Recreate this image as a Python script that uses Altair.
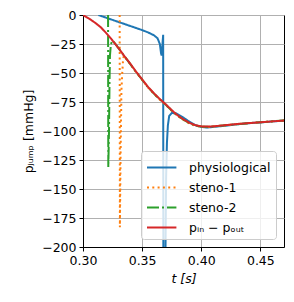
import altair as alt
import pandas as pd

SERIES = ["physiological", "steno-1", "steno-2", "pᵢₙ − pₒᵤₜ"]
COLORS = ["#1f77b4", "#ff7f0e", "#2ca02c", "#d62728"]
DASHES = [[1, 0], [2, 3.3], [12, 3, 2, 3], [1, 0]]

phys_t = [0.313, 0.320, 0.330, 0.340, 0.350, 0.355, 0.360, 0.363, 0.365, 0.366, 0.3665,
          0.3678, 0.3680, 0.3695, 0.3698, 0.3703, 0.3710, 0.3718, 0.3729, 0.375, 0.3785,
          0.385, 0.390, 0.395, 0.400, 0.405, 0.410, 0.420, 0.430, 0.440, 0.450, 0.460, 0.470]
phys_p = [0, -2.5, -6, -9.5, -13, -15, -17.5, -20, -25, -33, -35,
          -17, -260, -260, -200, -140, -110, -95, -87, -84.5, -84.7,
          -88.5, -92, -95, -96.5, -97, -96.5, -95.5, -94.3, -93.3, -92.6, -91.8, -91]

st1_t = [0.3310, 0.3312, 0.3318, 0.3325, 0.3332, 0.3338, 0.3345, 0.340, 0.345, 0.350,
         0.355, 0.360, 0.365, 0.370, 0.375, 0.380, 0.385, 0.390, 0.395, 0.400, 0.405,
         0.410, 0.420, 0.430, 0.440, 0.450, 0.460, 0.470]
st1_p = [0, -183, -120, -65, -50, -40, -35, -42.5, -49.5, -56, -62.5, -68, -73, -77.5,
         -82.5, -87, -90.5, -93.5, -95.5, -96.3, -96.5, -96.2, -95.2, -94.2, -93.3, -92.5,
         -91.7, -91]

st2_t = [0.3212, 0.3214, 0.3220, 0.3224, 0.3228, 0.3236, 0.3250, 0.327, 0.330, 0.335,
         0.340, 0.345, 0.350, 0.355, 0.360, 0.365, 0.370, 0.375, 0.380, 0.385, 0.390,
         0.395, 0.400, 0.405, 0.410, 0.420, 0.430, 0.440, 0.450, 0.460, 0.470]
st2_p = [0, -131, -100, -60, -35, -25, -22, -24.5, -28.5, -35.5, -42.3, -49.3, -55.8,
         -62.3, -67.8, -72.8, -77.3, -82.3, -86.8, -90.3, -93.3, -95.3, -96.2, -96.4,
         -96.1, -95.1, -94.1, -93.2, -92.5, -91.7, -91]

red_t = [0.300, 0.305, 0.310, 0.315, 0.320, 0.325, 0.330, 0.335, 0.340, 0.345, 0.350,
         0.355, 0.360, 0.365, 0.370, 0.375, 0.380, 0.385, 0.390, 0.395, 0.400, 0.405,
         0.410, 0.420, 0.430, 0.440, 0.450, 0.460, 0.470]
red_p = [0, -3, -6.5, -10.5, -16, -22, -28.5, -35.5, -42, -49, -55.5, -62, -67.5, -72.5,
         -77, -82, -86.5, -90, -93, -95, -96, -96.2, -96, -95, -94, -93.2, -92.5, -91.7, -91]

X_TICKS = [0.30, 0.35, 0.40, 0.45]
Y_TICKS = [0, -25, -50, -75, -100, -125, -150, -175, -200]

data = [(phys_t, phys_p), (st1_t, st1_p), (st2_t, st2_p), (red_t, red_p)]

color_scale = alt.Scale(domain=SERIES, range=COLORS)
dash_scale = alt.Scale(domain=SERIES, range=DASHES)

x_enc = alt.X("t:Q", scale=alt.Scale(domain=[0.30, 0.47], nice=False, zero=False),
              axis=alt.Axis(values=X_TICKS, format=".2f", title="t [s]", titleFontStyle="italic",
                            labelFlush=False))
y_enc = alt.Y("p:Q", scale=alt.Scale(domain=[-200, 0], nice=False),
              axis=alt.Axis(values=Y_TICKS, title="pⱼᵤₘₚ [mmHg]", labelFlush=False,
                            labelExpr="replace(datum.label, '-', '\u2212')"))

layers = []
for i, (name, (ts, ps)) in enumerate(zip(SERIES, data)):
    df = pd.DataFrame({"t": ts, "p": ps, "series": name, "i": range(len(ts))})
    layers.append(
        alt.Chart(df).mark_line(strokeWidth=2, clip=True).encode(
            x=x_enc, y=y_enc,
            order="i:Q",
            color=alt.Color("series:N", scale=color_scale, title=None,
                            legend=alt.Legend(orient="bottom-right", offset=8)),
            strokeDash=alt.StrokeDash("series:N", scale=dash_scale, title=None,
                                      legend=alt.Legend(orient="bottom-right", offset=8)),
        )
    )

chart = alt.layer(*layers).properties(
    width=201, height=232,
    autosize=alt.AutoSizeParams(type="none"),
    padding={"left": 75, "top": 7, "right": 2, "bottom": 47},
).configure(font="DejaVu Sans").configure_view(
    stroke="black", strokeWidth=1
).configure_axis(
    grid=True, gridColor="#b0b0b0", gridWidth=1,
    domainColor="black", domainWidth=1, tickColor="black", tickSize=4,
    labelFontSize=12.5, labelColor="black", titleFontSize=12.5, titleColor="black",
    titleFontWeight="normal", labelPadding=3,
).configure_axisX(titlePadding=6).configure_axisY(titlePadding=6).configure_legend(
    fillColor="rgba(255,255,255,0.8)", strokeColor="#cccccc", cornerRadius=3,
    padding=5, labelFontSize=12.5, labelColor="black", symbolType="M-1,0H1.8",
    symbolSize=441, symbolStrokeWidth=2, labelOffset=20, rowPadding=2,
)

chart.save("out.html", embed_options={"renderer": "svg", "actions": False})
